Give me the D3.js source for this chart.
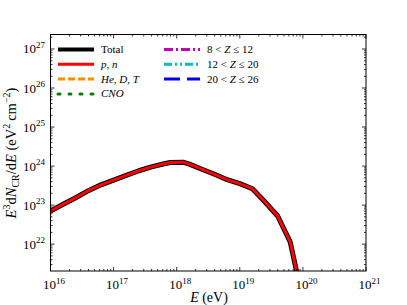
<!DOCTYPE html>
<html lang="en">
<head>
  <script src="https://d3js.org/d3.v7.min.js" charset="utf-8"></script>
  <style>
    body { margin: 0; background: #fff; }
    svg text { font-family: "Liberation Serif", "DejaVu Serif", serif; fill: #000; }
  </style>
</head>
<body>
  <script>
    // energy bins (log10 E / eV) and E^3 dN/dE (log10)
    var logE = [16.0, 16.2, 16.4, 16.6, 16.8, 17.0, 17.2, 17.4, 17.6, 17.8, 17.9, 18.1,
                18.2, 18.4, 18.6, 18.8, 19.0, 19.2, 19.4, 19.6, 19.8, 20.0];
    var logTotal = [22.85, 23.02, 23.19, 23.37, 23.52, 23.64, 23.76, 23.88, 23.98, 24.06, 24.09, 24.10,
                    24.05, 23.92, 23.79, 23.65, 23.55, 23.42, 23.08, 22.72, 22.05, 20.55];
    var logProton = [22.85, 23.02, 23.19, 23.37, 23.52, 23.64, 23.76, 23.88, 23.98, 24.06, 24.09, 24.10,
                     24.05, 23.92, 23.79, 23.65, 23.55, 23.42, 23.08, 22.72, 22.05, 20.55];
    var xTicks = [16, 17, 18, 19, 20, 21];
    var yTicks = [22, 23, 24, 25, 26, 27];

    var width = 407, height = 305;
    var pLeft = 50.5, pRight = 366, pTop = 34.5, pBottom = 271;

    var svg = d3.select("body").append("svg")
      .attr("width", width).attr("height", height);

    var x = d3.scaleLog().domain([1e16, 1e21]).range([pLeft, pRight]);
    var y = d3.scaleLog().domain([2.05e21, 2.35e27]).range([pBottom, pTop]);

    svg.append("defs").append("clipPath").attr("id", "clip")
      .append("rect").attr("x", pLeft).attr("y", pTop)
      .attr("width", pRight - pLeft).attr("height", pBottom - pTop);

    var line = d3.line()
      .x(function(d) { return x(Math.pow(10, d[0])); })
      .y(function(d) { return y(Math.pow(10, d[1])); });

    var g = svg.append("g").attr("clip-path", "url(#clip)");
    g.append("path")
      .attr("d", line(d3.zip(logE, logTotal)))
      .attr("fill", "none").attr("stroke", "#000").attr("stroke-width", 5)
      .attr("stroke-linejoin", "round");
    g.append("path")
      .attr("d", line(d3.zip(logE, logProton)))
      .attr("fill", "none").attr("stroke", "#f00").attr("stroke-width", 3)
      .attr("stroke-linejoin", "round");

    // minor + major ticks, pointing in, on all four sides
    var ax = svg.append("g").attr("stroke", "#000").attr("stroke-width", 0.8);
    xTicks.forEach(function(p, i) {
      var steps = i < xTicks.length - 1 ? [1, 2, 3, 4, 5, 6, 7, 8, 9] : [1];
      steps.forEach(function(m) {
        var xx = x(m * Math.pow(10, p)), len = m == 1 ? 4 : 2;
        ax.append("line").attr("x1", xx).attr("x2", xx).attr("y1", pBottom).attr("y2", pBottom - len);
        ax.append("line").attr("x1", xx).attr("x2", xx).attr("y1", pTop).attr("y2", pTop + len);
      });
    });
    d3.range(21, 28).forEach(function(p) {
      [1, 2, 3, 4, 5, 6, 7, 8, 9].forEach(function(m) {
        var v = m * Math.pow(10, p);
        if (v < y.domain()[0] || v > y.domain()[1]) return;
        var yy = y(v), len = m == 1 ? 4 : 2;
        ax.append("line").attr("x1", pLeft).attr("x2", pLeft + len).attr("y1", yy).attr("y2", yy);
        ax.append("line").attr("x1", pRight).attr("x2", pRight - len).attr("y1", yy).attr("y2", yy);
      });
    });
    svg.append("rect").attr("x", pLeft).attr("y", pTop)
      .attr("width", pRight - pLeft).attr("height", pBottom - pTop)
      .attr("fill", "none").attr("stroke", "#000").attr("stroke-width", 1);

    function pow10(sel, p) {
      sel.append("tspan").text("10");
      sel.append("tspan").attr("dy", -5.5).attr("font-size", 9).text(p);
    }
    xTicks.forEach(function(p) {
      var t = svg.append("text").attr("x", x(Math.pow(10, p)) + 3.5).attr("y", 289)
        .attr("text-anchor", "middle").attr("font-size", 13);
      pow10(t, p);
    });
    yTicks.forEach(function(p) {
      var t = svg.append("text").attr("x", 45).attr("y", y(Math.pow(10, p)) + 4.5)
        .attr("text-anchor", "end").attr("font-size", 13);
      pow10(t, p);
    });

    // axis labels
    var xl = svg.append("text").attr("x", 209).attr("y", 302)
      .attr("text-anchor", "middle").attr("font-size", 14);
    xl.append("tspan").attr("font-style", "italic").text("E");
    xl.append("tspan").text(" (eV)");

    var yl = svg.append("text").attr("transform", "translate(16,153) rotate(-90)")
      .attr("text-anchor", "middle").attr("font-size", 14.5);
    yl.append("tspan").attr("font-style", "italic").text("E");
    yl.append("tspan").attr("dy", -6).attr("font-size", 10).text("3");
    yl.append("tspan").attr("dy", 6).text("d");
    yl.append("tspan").attr("font-style", "italic").text("N");
    yl.append("tspan").attr("dy", 3).attr("font-size", 10).text("CR");
    yl.append("tspan").attr("dy", -3).text("/d");
    yl.append("tspan").attr("font-style", "italic").text("E");
    yl.append("tspan").text(" (eV");
    yl.append("tspan").attr("dy", -6).attr("font-size", 10).text("2");
    yl.append("tspan").attr("dy", 6).text("\u2009cm");
    yl.append("tspan").attr("dy", -6).attr("font-size", 10).text("\u22122");
    yl.append("tspan").attr("dy", 6).text(")");

    // legend
    var legendNames = ["Total", "p, n", "He, D, T", "CNO", "8 < Z \u2264 12", "12 < Z \u2264 20", "20 < Z \u2264 26"];
    var legendColors = ["#000", "#f00", "#ff8c00", "#008000", "#bf00bf", "#00bfbf", "#0000ff"];
    var legendDash = [null, null, "7,3", "2,9", "9,3,2,3", "8,3,2,3,2,3", "16,7"];
    var legendWidth = [4, 3, 3, 3, 3, 3, 3];
    var legendItalic = [false, true, true, true, false, false, false];

    legendNames.forEach(function(name, i) {
      var col = i < 4 ? 0 : 1, row = i < 4 ? i : i - 4;
      var lx = col == 0 ? 58 : 164, ly = 49.5 + row * 14.8;
      svg.append("line").attr("x1", lx).attr("x2", lx + 36).attr("y1", ly).attr("y2", ly)
        .attr("stroke", legendColors[i]).attr("stroke-width", legendWidth[i])
        .attr("stroke-dasharray", legendDash[i])
        .attr("stroke-linecap", i == 3 ? "round" : "butt");
      var t = svg.append("text").attr("x", lx + 43).attr("y", ly + 3.5).attr("font-size", 11);
      if (col == 1) {
        var parts = name.split("Z");
        t.append("tspan").text(parts[0]);
        t.append("tspan").attr("font-style", "italic").text("Z");
        t.append("tspan").text(parts[1]);
      } else {
        t.attr("font-style", legendItalic[i] ? "italic" : null).text(name);
      }
    });
  </script>
</body>
</html>
